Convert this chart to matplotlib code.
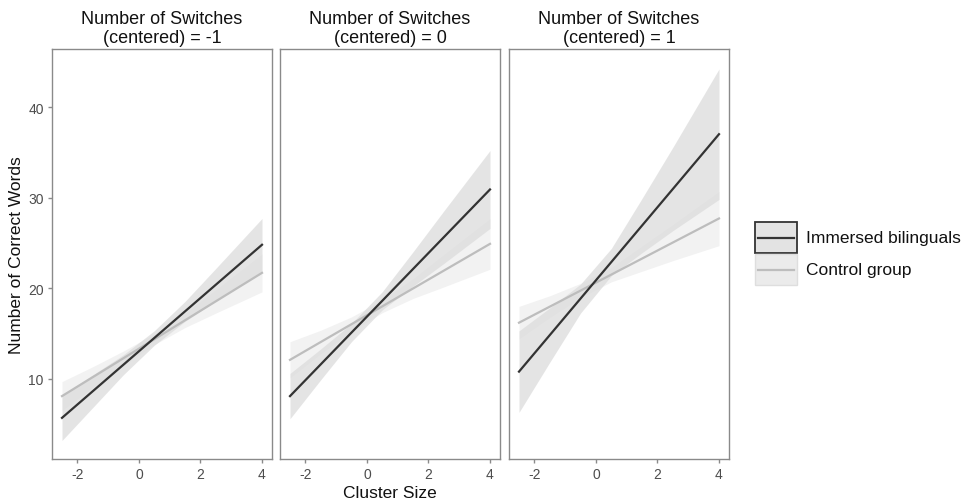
import matplotlib
matplotlib.use("Agg")
import matplotlib.pyplot as plt
from matplotlib.patches import Rectangle
from matplotlib.lines import Line2D

plt.rcParams['font.family'] = ['Liberation Sans', 'DejaVu Sans']

# ---- data ----
panel_titles = ["Number of Switches\n(centered) = -1",
                "Number of Switches\n(centered) = 0",
                "Number of Switches\n(centered) = 1"]
groups = ["Immersed bilinguals", "Control group"]

line_x = [-2.5, 4.0]
immersed_y = [[5.7, 24.8], [8.1, 30.9], [10.8, 37.0]]
control_y = [[8.1, 21.7], [12.1, 24.9], [16.2, 27.7]]

band_x = [-2.5, -1.5, -0.5, 0.5, 1.5, 2.5, 4.0]
immersed_halfwidth = [[2.5, 1.8, 1.1, 0.8, 1.1, 1.8, 2.9],
                      [2.5, 1.7, 1.0, 1.0, 1.9, 2.9, 4.3],
                      [4.5, 3.0, 1.6, 1.5, 3.0, 4.6, 7.2]]
control_halfwidth = [[1.6, 1.15, 0.8, 0.6, 0.8, 1.3, 2.1],
                     [2.0, 1.3, 0.8, 0.7, 1.1, 1.8, 2.8],
                     [1.8, 1.2, 0.8, 0.8, 1.4, 2.0, 3.0]]

x_ticks = [-2, 0, 2, 4]
y_ticks = [10, 20, 30, 40]
x_label = "Cluster Size"
y_label = "Number of Correct Words"

# ---- styling ----
imm_line = "#333333"
ctl_line = "#bdbdbd"
imm_fill = "#dcdcdc"
ctl_fill = "#f0f0f0"
border = "#8a8a8a"
tickc = "#4d4d4d"


def line_at(ends, xs):
    (y0, y1) = ends
    x0, x1 = line_x
    return [y0 + (y1 - y0) * (x - x0) / (x1 - x0) for x in xs]


W, H = 970, 502
fig = plt.figure(figsize=(W / 100, H / 100), dpi=100)
lefts = [52 / W, 280 / W, 509 / W]
w = 220 / W
bottom = 1 - 460 / H
h = (460 - 50) / H

for i in range(3):
    ax = fig.add_axes([lefts[i], bottom, w, h])
    cmid = line_at(control_y[i], band_x)
    imid = line_at(immersed_y[i], band_x)
    ax.fill_between(band_x, [m - d for m, d in zip(cmid, control_halfwidth[i])],
                    [m + d for m, d in zip(cmid, control_halfwidth[i])],
                    color=ctl_fill, alpha=0.85, lw=0, zorder=1)
    ax.fill_between(band_x, [m - d for m, d in zip(imid, immersed_halfwidth[i])],
                    [m + d for m, d in zip(imid, immersed_halfwidth[i])],
                    color=imm_fill, alpha=0.75, lw=0, zorder=2)
    ax.plot(line_x, control_y[i], color=ctl_line, lw=1.6, zorder=3)
    ax.plot(line_x, immersed_y[i], color=imm_line, lw=1.6, zorder=4)

    ax.set_xlim(-2.825, 4.325)
    ax.set_ylim(1.16, 46.4)
    ax.set_xticks(x_ticks)
    ax.set_xticklabels([str(t) for t in x_ticks])
    for s in ax.spines.values():
        s.set_color(border)
        s.set_linewidth(1.0)
    ax.tick_params(axis='both', colors=border, labelcolor=tickc,
                   labelsize=10, length=3, width=1.0, pad=3)
    if i == 0:
        ax.set_yticks(y_ticks)
        ax.set_yticklabels([str(t) for t in y_ticks])
        ax.set_ylabel(y_label, fontsize=12.5, color="#111111", labelpad=3)
    else:
        ax.set_yticks([])
    if i == 1:
        ax.set_xlabel(x_label, fontsize=12.5, color="#111111", labelpad=3)
    ax.set_title(panel_titles[i], fontsize=13, color="#111111",
                 pad=5, linespacing=1.15)

# ---- legend (drawn in figure pixel coordinates) ----
def fx(px):
    return px / W


def fy(py):
    return 1 - py / H


key_specs = [
    (groups[0], imm_line, "#e3e3e3", "#333333", 1.3, 223),
    (groups[1], ctl_line, "#ebebeb", "#dedede", 1.0, 255),
]
for label, lc, fc, ec, elw, top in key_specs:
    fig.add_artist(Rectangle((fx(755), fy(top + 31)), 42 / W, 31 / H,
                             transform=fig.transFigure, facecolor=fc,
                             edgecolor=ec, lw=elw))
    fig.add_artist(Line2D([fx(758), fx(794)], [fy(top + 16)] * 2,
                          transform=fig.transFigure, color=lc, lw=1.6))
    fig.text(fx(806), fy(top + 16), label, fontsize=12.5, color="#111111",
             va="center", ha="left")

fig.savefig("out.png", dpi=100)
